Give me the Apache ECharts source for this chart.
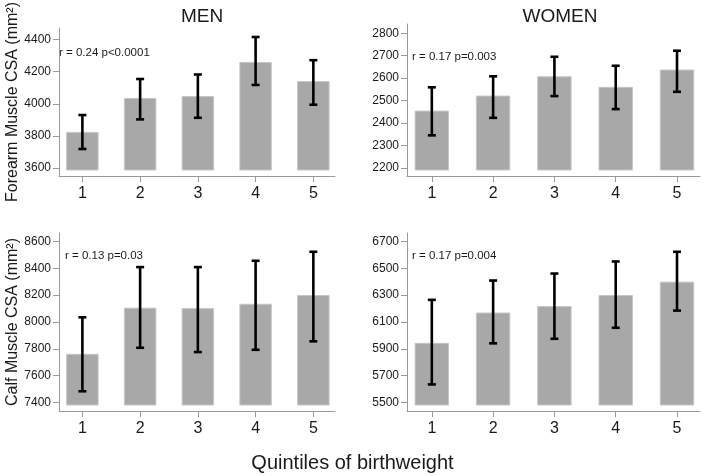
<!DOCTYPE html>
<html>
<head>
<meta charset="utf-8">
<script src="https://cdn.jsdelivr.net/npm/echarts@6/dist/echarts.min.js"></script>
<style>
html,body{margin:0;padding:0;background:#fff;}
#chart{width:705px;height:476px;}
</style>
</head>
<body>
<div id="chart"></div>
<script>
// ---- data ----
const quintiles = [1, 2, 3, 4, 5];

const menForearmMean = [3822, 4033, 4045, 4257, 4138];
const menForearmLow  = [3719, 3903, 3913, 4117, 3994];
const menForearmHigh = [3930, 4154, 4182, 4415, 4271];

const womenForearmMean = [2453, 2520, 2606, 2559, 2636];
const womenForearmLow  = [2345, 2423, 2520, 2462, 2539];
const womenForearmHigh = [2559, 2608, 2695, 2655, 2722];

const menCalfMean = [7759, 8103, 8100, 8132, 8197];
const menCalfLow  = [7484, 7808, 7776, 7793, 7856];
const menCalfHigh = [8035, 8409, 8409, 8456, 8523];

const womenCalfMean = [5941, 6167, 6215, 6297, 6397];
const womenCalfLow  = [5635, 5941, 5975, 6057, 6185];
const womenCalfHigh = [6265, 6409, 6461, 6551, 6623];

const menForearmTicks   = [3600, 3800, 4000, 4200, 4400];
const womenForearmTicks = [2200, 2300, 2400, 2500, 2600, 2700, 2800];
const menCalfTicks      = [7400, 7600, 7800, 8000, 8200, 8400, 8600];
const womenCalfTicks    = [5500, 5700, 5900, 6100, 6300, 6500, 6700];

const panelTitles = ['MEN', 'WOMEN'];
const yNames = ['Forearm Muscle CSA (mm²)', 'Calf Muscle CSA (mm²)'];
const statTexts = ['r = 0.24 p<0.0001', 'r = 0.17 p=0.003', 'r = 0.13 p=0.03', 'r = 0.17 p=0.004'];
const xTitle = 'Quintiles of birthweight';

// ---- styling ----
const FONT = 'Liberation Sans, Arial, sans-serif';
const AXIS_COLOR = '#9a9a9a';
const TEXT_COLOR = '#1a1a1a';
const BAR_W = 0.545;   // in x-units
const BAR_GAP = 6;     // px gap between bar bottom and x axis

const panels = [
  {mean: menForearmMean, low: menForearmLow, high: menForearmHigh, ticks: menForearmTicks, min: 3551, max: 4471,
   grid: {left: 59, top: 24, width: 276, height: 152}},
  {mean: womenForearmMean, low: womenForearmLow, high: womenForearmHigh, ticks: womenForearmTicks, min: 2164, max: 2841,
   grid: {left: 407, top: 24, width: 293, height: 152}},
  {mean: menCalfMean, low: menCalfLow, high: menCalfHigh, ticks: menCalfTicks, min: 7337, max: 8663,
   grid: {left: 59, top: 233, width: 276, height: 178}},
  {mean: womenCalfMean, low: womenCalfLow, high: womenCalfHigh, ticks: womenCalfTicks, min: 5437, max: 6763,
   grid: {left: 407, top: 233, width: 293, height: 178}}
];

function barItem(params, api) {
  const x = api.value(0), v = api.value(1);
  const top = api.coord([x, v]);
  const w = api.size([BAR_W, 0])[0];
  const cs = params.coordSys;
  const bottom = cs.y + cs.height - BAR_GAP;
  return {
    type: 'rect',
    shape: {x: top[0] - w / 2, y: top[1], width: w, height: bottom - top[1]},
    style: {fill: '#a8a8a8', stroke: '#c6c6c6', lineWidth: 1}
  };
}

function errItem(params, api) {
  const x = api.value(0);
  const lo = api.coord([x, api.value(1)]);
  const hi = api.coord([x, api.value(2)]);
  const cap = 4;
  const st = {stroke: '#000', lineWidth: 2.6};
  return {
    type: 'group',
    children: [
      {type: 'line', shape: {x1: lo[0], y1: lo[1], x2: hi[0], y2: hi[1]}, style: st},
      {type: 'line', shape: {x1: lo[0] - cap, y1: lo[1], x2: lo[0] + cap, y2: lo[1]}, style: st},
      {type: 'line', shape: {x1: hi[0] - cap, y1: hi[1], x2: hi[0] + cap, y2: hi[1]}, style: st}
    ]
  };
}

const grids = [], xAxes = [], yAxes = [], series = [];
panels.forEach((p, i) => {
  grids.push(p.grid);
  xAxes.push({
    gridIndex: i, type: 'value', min: 0.595, max: 5.375,
    axisLine: {show: true, onZero: false, lineStyle: {color: AXIS_COLOR, width: 1}},
    axisTick: {show: true, customValues: quintiles, length: 6, lineStyle: {color: AXIS_COLOR}},
    axisLabel: {customValues: quintiles, margin: 10, fontSize: 16, color: TEXT_COLOR, fontFamily: FONT,
                formatter: v => String(v)},
    splitLine: {show: false}
  });
  yAxes.push({
    gridIndex: i, type: 'value', min: p.min, max: p.max,
    name: (i % 2 === 0) ? yNames[i >> 1] : '',
    nameLocation: 'middle', nameGap: 38, nameRotate: 90,
    nameTextStyle: {fontSize: 16, color: TEXT_COLOR, fontFamily: FONT},
    axisLine: {show: true, lineStyle: {color: AXIS_COLOR, width: 1}},
    axisTick: {show: true, customValues: p.ticks, length: 6, lineStyle: {color: AXIS_COLOR}},
    axisLabel: {customValues: p.ticks, margin: 8, fontSize: 12, color: TEXT_COLOR, fontFamily: FONT,
                formatter: v => String(v)},
    splitLine: {show: false}
  });
  series.push({
    type: 'custom', xAxisIndex: i, yAxisIndex: i,
    renderItem: barItem,
    data: quintiles.map((q, k) => [q, p.mean[k]]),
    silent: true, animation: false
  });
  series.push({
    type: 'custom', xAxisIndex: i, yAxisIndex: i,
    renderItem: errItem,
    data: quintiles.map((q, k) => [q, p.low[k], p.high[k]]),
    silent: true, animation: false, z: 5
  });
});

const chart = echarts.init(document.getElementById('chart'), null, {renderer: 'canvas'});
chart.setOption({
  backgroundColor: '#fff',
  animation: false,
  title: [
    {text: panelTitles[0], left: 197, top: 2, textAlign: 'center',
     textStyle: {fontSize: 19, fontWeight: 'normal', color: TEXT_COLOR, fontFamily: FONT}},
    {text: panelTitles[1], left: 555, top: 2, textAlign: 'center',
     textStyle: {fontSize: 19, fontWeight: 'normal', color: TEXT_COLOR, fontFamily: FONT}}
  ],
  grid: grids,
  xAxis: xAxes,
  yAxis: yAxes,
  series: series,
  graphic: [
    {type: 'text', left: 59, top: 47, style: {text: statTexts[0], fontSize: 11.5, fill: TEXT_COLOR, fontFamily: FONT}},
    {type: 'text', left: 412, top: 51, style: {text: statTexts[1], fontSize: 11.5, fill: TEXT_COLOR, fontFamily: FONT}},
    {type: 'text', left: 65, top: 250, style: {text: statTexts[2], fontSize: 11.5, fill: TEXT_COLOR, fontFamily: FONT}},
    {type: 'text', left: 412, top: 250, style: {text: statTexts[3], fontSize: 11.5, fill: TEXT_COLOR, fontFamily: FONT}},
    {type: 'text', left: 'center', top: 453, style: {text: xTitle, fontSize: 20, fill: TEXT_COLOR, fontFamily: FONT}}
  ]
});
</script>
</body>
</html>
